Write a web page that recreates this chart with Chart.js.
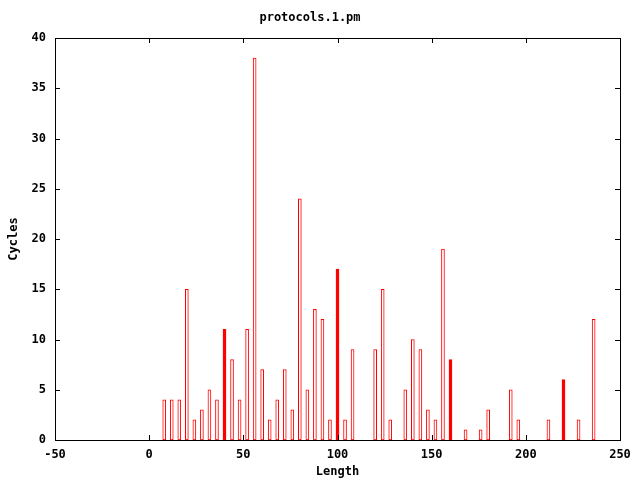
<!DOCTYPE html>
<html lang="en">
<head>
  <meta charset="UTF-8" />
  <title>protocols.1.pm</title>
  <style>
    html, body { margin: 0; padding: 0; background: #fff; }
    #wrap { width: 640px; height: 480px; }
  </style>
</head>
<body>
  <div id="wrap">
    <canvas id="chart" width="640" height="480"></canvas>
  </div>

  <script src="https://cdn.jsdelivr.net/npm/chart.js"></script>
  <script>
    // lengths (x) and cycles (y)
    const lengths = [8, 12, 16, 20, 24, 28, 32, 36, 40, 44, 48, 52, 56, 60, 64,
                     68, 72, 76, 80, 84, 88, 92, 96, 100, 104, 108, 120, 124, 128,
                     136, 140, 144, 148, 152, 156, 160, 168, 176, 180, 192, 196,
                     212, 220, 228, 236];
    const cycles  = [4, 4, 4, 15, 2, 3, 5, 4, 11, 8, 4, 11, 38, 7, 2,
                     4, 7, 3, 24, 5, 13, 12, 2, 17, 2, 9, 9, 15, 2,
                     5, 10, 9, 3, 2, 19, 8, 1, 1, 3, 5, 2,
                     2, 6, 2, 12];
    const xTicks = [-50, 0, 50, 100, 150, 200, 250];
    const yTicks = [0, 5, 10, 15, 20, 25, 30, 35, 40];
    // boxes that come out solid in the original
    const solidAt = [40, 100, 160, 220];

    const font = { family: '"DejaVu Sans Mono", monospace', size: 12, weight: 'bold' };
    const RED = '#ff0000';

    // gnuplot style frame: border plus inward ticks on all four sides
    const frame = {
      id: 'frame',
      afterDraw(chart) {
        const { ctx, chartArea: a, scales } = chart;
        const t = 5;
        ctx.save();
        ctx.strokeStyle = '#000';
        ctx.lineWidth = 1;
        ctx.beginPath();
        xTicks.forEach(v => {
          const px = Math.round(scales.x.getPixelForValue(v)) + 0.5;
          ctx.moveTo(px, a.bottom); ctx.lineTo(px, a.bottom - t);
          ctx.moveTo(px, a.top); ctx.lineTo(px, a.top + t);
        });
        yTicks.forEach(v => {
          const py = Math.round(scales.y.getPixelForValue(v)) + 0.5;
          ctx.moveTo(a.left, py); ctx.lineTo(a.left + t, py);
          ctx.moveTo(a.right, py); ctx.lineTo(a.right - t, py);
        });
        ctx.stroke();
        ctx.strokeRect(Math.round(a.left) + 0.5, Math.round(a.top) + 0.5,
                       Math.round(a.right - a.left), Math.round(a.bottom - a.top));
        ctx.restore();
      }
    };

    new Chart(document.getElementById('chart'), {
      type: 'bar',
      data: {
        datasets: [{
          data: lengths.map((x, i) => ({ x, y: cycles[i] })),
          borderColor: RED,
          borderWidth: 1,
          borderSkipped: false,
          backgroundColor: c => solidAt.includes(lengths[c.dataIndex]) ? RED : '#fff',
          barThickness: 3
        }]
      },
      options: {
        responsive: false,
        animation: false,
        layout: { padding: { right: 20 } },
        plugins: {
          legend: { display: false },
          tooltip: { enabled: false },
          title: {
            display: true,
            text: 'protocols.1.pm',
            color: '#000',
            font,
            padding: { top: 11, bottom: 12.6 }
          }
        },
        scales: {
          x: {
            type: 'linear',
            min: -50, max: 250,
            offset: false,
            afterFit: s => { s.height = 40; },
            afterBuildTicks: s => { s.ticks = xTicks.map(v => ({ value: v })); },
            grid: { display: false, drawTicks: false },
            border: { display: false },
            ticks: { color: '#000', font, padding: 8, maxRotation: 0 },
            title: { display: true, text: 'Length', color: '#000', font, padding: { top: 0, bottom: 1 } }
          },
          y: {
            min: 0, max: 40,
            afterFit: s => { s.width = 55; },
            afterBuildTicks: s => { s.ticks = yTicks.map(v => ({ value: v })); },
            grid: { display: false, drawTicks: false },
            border: { display: false },
            ticks: { color: '#000', font, padding: 9 },
            title: { display: true, text: 'Cycles', color: '#000', font, padding: { top: 7, bottom: 0 } }
          }
        }
      },
      plugins: [frame]
    });
  </script>
</body>
</html>
